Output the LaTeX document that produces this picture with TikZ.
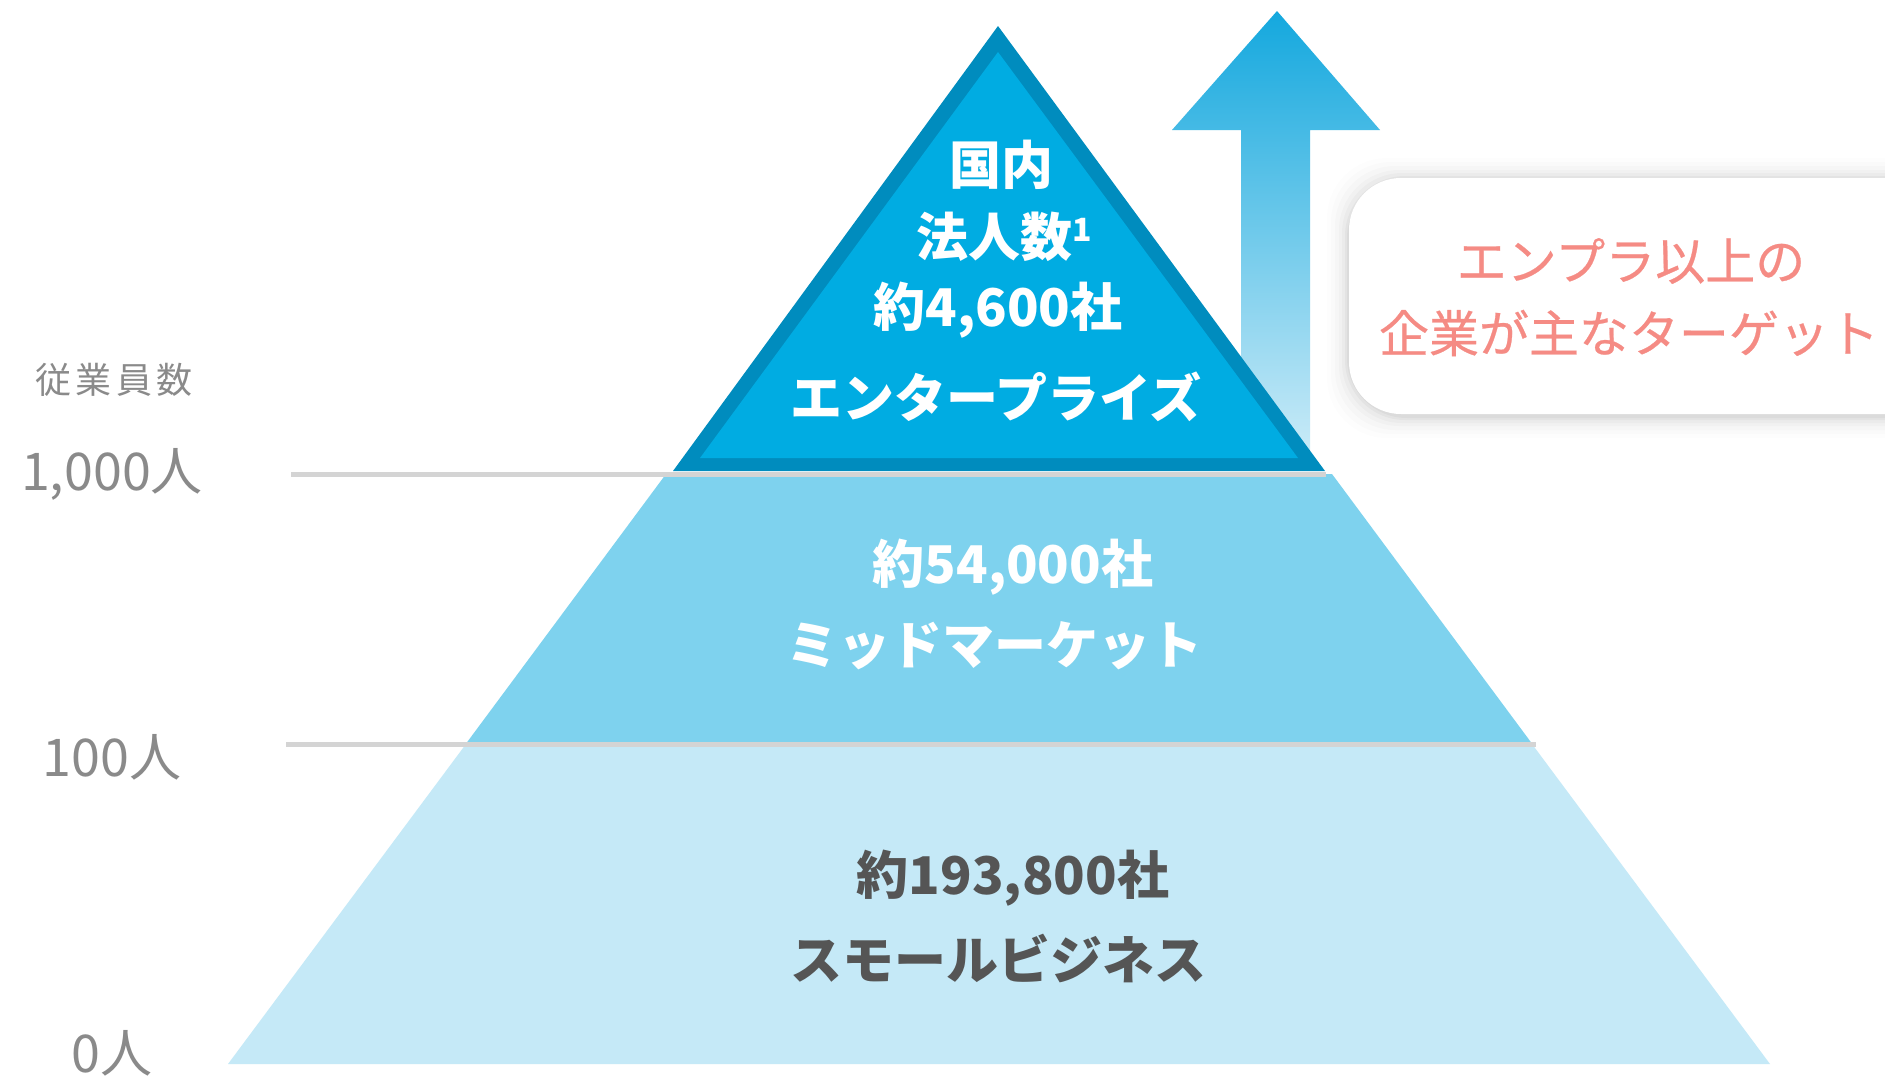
\documentclass[tikz,border=0pt]{standalone}
\usepackage{fontspec}
\setmainfont{Noto Sans CJK JP}
\newfontfamily\jpfont{Noto Sans CJK JP}
\usetikzlibrary{calc}
\definecolor{entdark}{HTML}{008CBE}
\definecolor{entfill}{HTML}{00ACE2}
\definecolor{midfill}{HTML}{7ED2EE}
\definecolor{smallfill}{HTML}{C5E9F7}
\definecolor{gridgray}{HTML}{D4D4D4}
\definecolor{labelgray}{HTML}{8A8A8A}
\definecolor{textdark}{HTML}{555555}
\definecolor{pinktext}{HTML}{F58B84}
\definecolor{arrowtop}{HTML}{14A8DE}
\definecolor{arrowbot}{HTML}{CDECF8}
\tikzset{
  wlabel/.style={font=\fontsize{52}{62}\selectfont\bfseries, text=white, inner sep=0pt, anchor=center},
  dlabel/.style={font=\fontsize{52}{62}\selectfont\bfseries, text=textdark, inner sep=0pt, anchor=center},
  axislabel/.style={font=\fontsize{52}{62}\selectfont, text=labelgray, inner sep=0pt, anchor=center},
  calltext/.style={font=\fontsize{50}{60}\selectfont\addfontfeatures{FakeBold=0.5}, text=pinktext, inner sep=0pt, anchor=center},
  gridline/.style={draw=gridgray, line width=5pt},
}
\begin{document}
\begin{tikzpicture}[x=1pt,y=-1pt]
\useasboundingbox (0,0) rectangle (1885,1080);
\fill[white] (0,0) rectangle (1885,1080);
% arrow
\shade[top color=arrowtop, bottom color=arrowbot]
  (1277,11) -- (1380,130) -- (1310,130) -- (1310,462) -- (1241,462) -- (1241,130) -- (1172,130) -- cycle;
% pyramid layers
\fill[smallfill] (466,744) -- (1532,744) -- (1770,1064) -- (228,1064) -- cycle;
\fill[midfill] (666,474) -- (1332,474) -- (1533,745) -- (465,745) -- cycle;
\fill[entdark] (998,26) -- (1325,471) -- (673,471) -- cycle;
\fill[entfill] (998,52) -- (1298,458) -- (700,458) -- cycle;
% grid lines
\coordinate (g1a) at (291,474); \coordinate (g1b) at (1326,474);
\coordinate (g2a) at (286,744); \coordinate (g2b) at (1536,744);
\draw[gridline] (g1a) -- (g1b);
\draw[gridline] (g2a) -- (g2b);
% callout shadow and box
\foreach \i/\op in {22/0.008,18/0.012,14/0.016,10/0.02,7/0.025,4/0.03,2/0.03} {
  \fill[black, opacity=\op, rounded corners=60pt] ($(1349,178)+(-\i,-\i+2)$) rectangle ($(1960,414)+(\i,\i+2)$);
}
\fill[white, rounded corners=52pt] (1349,178) rectangle (1960,414);
% texts
\node[wlabel] (t1) at (1001,165) {国内};
\node[wlabel] (t2) at (1004,237) {法人数\raisebox{0.3em}{\fontsize{32}{36}\selectfont 1}};
\node[wlabel] (t3) at (998,310) {約4,600社};
\node[wlabel] (t4) at (996,397) {エンタープライズ};
\node[wlabel] (m1) at (1013,567) {約54,000社};
\node[wlabel] (m2) at (994,646) {ミッドマーケット};
\node[dlabel] (s1) at (1013,878) {約193,800社};
\node[dlabel] (s2) at (998,958) {スモールビジネス};
\node[axislabel, font=\fontsize{36}{44}\selectfont\addfontfeatures{LetterSpace=12}] (ax) at (114,380) {従業員数};
\node[axislabel] (l1000) at (112,474) {1,000人};
\node[axislabel] (l100) at (112,757) {100人};
\node[axislabel] (l0) at (112,1053) {0人};
\node[calltext] (c1) at (1631,261) {エンプラ以上の};
\node[calltext] (c2) at (1629,333) {企業が主なターゲット};
\end{tikzpicture}
\end{document}
